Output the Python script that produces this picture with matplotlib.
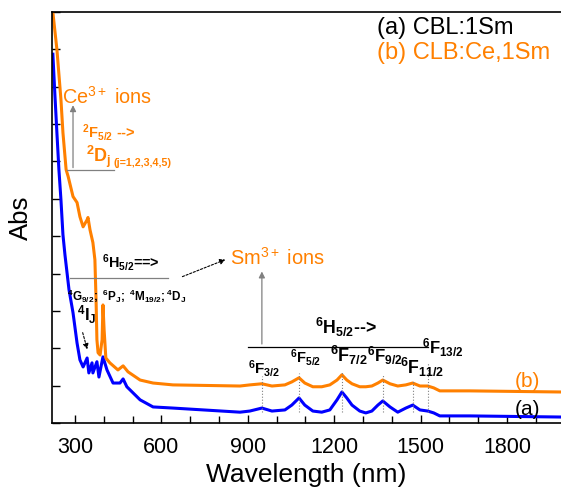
import matplotlib
matplotlib.use("Agg")
import matplotlib.pyplot as plt
from matplotlib.ticker import MultipleLocator

plt.rcParams["font.family"] = ["Liberation Sans", "DejaVu Sans"]
plt.rcParams["mathtext.fontset"] = "custom"
plt.rcParams["mathtext.rm"] = "Liberation Sans"
plt.rcParams["mathtext.it"] = "Liberation Sans:italic"
plt.rcParams["mathtext.bf"] = "Liberation Sans:bold"

BLUE = "#0000ff"
ORANGE = "#ff8000"

# (a) CBL:1Sm
wl_a = [223, 230, 237, 244, 251, 258, 265, 279, 293, 307, 317, 328, 342, 348,
        359, 362, 376, 383, 397, 411, 432, 456, 467, 480, 526, 571, 640, 873,
        907, 949, 984, 1029, 1053, 1078, 1098, 1126, 1157, 1185, 1210, 1227,
        1244, 1262, 1289, 1310, 1331, 1352, 1369, 1394, 1421, 1449, 1473,
        1498, 1525, 1546, 1567, 1671, 1988]
abs_a = [9.87, 8.79, 7.77, 6.78, 5.98, 5.04, 4.50, 3.57, 2.95, 2.14, 1.69,
         1.50, 1.74, 1.34, 1.61, 1.34, 1.64, 1.23, 1.77, 1.42, 1.07, 1.07,
         1.18, 0.97, 0.62, 0.43, 0.40, 0.29,
         0.32, 0.40, 0.32, 0.35, 0.48, 0.67, 0.48, 0.32, 0.29, 0.35, 0.62,
         0.83, 0.67, 0.48, 0.32, 0.27, 0.32, 0.48, 0.59, 0.43, 0.29, 0.40,
         0.48, 0.35, 0.32, 0.27, 0.19, 0.19, 0.16]

# (b) CLB:Ce,1Sm
wl_b = [223, 237, 251, 258, 269, 276, 293, 307, 317, 328, 342, 345, 352, 362,
        369, 373, 376, 380, 387, 394, 397, 401, 407, 421, 449, 467, 484, 526,
        571, 640, 873,
        907, 949, 984, 1029, 1053, 1078, 1098, 1126, 1157, 1185, 1210, 1227,
        1244, 1262, 1289, 1310, 1331, 1352, 1369, 1394, 1421, 1449, 1473,
        1498, 1525, 1546, 1567, 1671, 1988]
abs_b = [10.99, 10.0, 8.66, 7.77, 6.78, 6.60, 6.06, 5.90, 5.52, 5.25, 5.44,
         5.50, 5.17, 4.83, 4.37, 3.30, 2.23, 1.88, 1.82, 2.23, 3.16, 2.49,
         1.74, 1.61, 1.42, 1.53, 1.37, 1.15, 1.07, 1.02, 0.99,
         1.02, 1.05, 0.99, 1.02, 1.10, 1.21, 1.07, 0.97, 0.97, 1.02, 1.15,
         1.29, 1.15, 1.05, 0.97, 0.97, 0.99, 1.07, 1.15, 1.05, 0.99, 1.02,
         1.07, 0.99, 0.99, 0.94, 0.86, 0.86, 0.83]

# Sm3+ bands 6H5/2 -> 6F_J
sm_bands = [949, 1078, 1227, 1369, 1473, 1525]
sm_labels = [r"$\mathbf{^6F_{3/2}}$", r"$\mathbf{^6F_{5/2}}$", r"$\mathbf{^6F_{7/2}}$",
             r"$\mathbf{^6F_{9/2}}$", r"$\mathbf{^6F_{11/2}}$", r"$\mathbf{^6F_{13/2}}$"]
sm_label_x = [900, 1046, 1185, 1314, 1430, 1505]
sm_label_y = [1.47, 1.74, 1.80, 1.80, 1.50, 2.01]
sm_line_top = [1.25, 1.34, 1.37, 1.29, 1.15, 1.64]
sm_size = [11, 10.5, 13, 12.2, 12.8, 12]

fig = plt.figure(figsize=(5.61, 4.87), dpi=100)
ax = fig.add_axes([0.0927, 0.1314, 0.9073, 0.844])

ax.plot(wl_a, abs_a, color=BLUE, lw=2.2)
ax.plot(wl_b, abs_b, color=ORANGE, lw=2.2)

ax.set_xlim(220, 1988)
ax.set_ylim(0, 11)
ax.xaxis.set_major_locator(MultipleLocator(300))
ax.xaxis.set_minor_locator(MultipleLocator(100))
ax.yaxis.set_major_locator(MultipleLocator(1))
ax.set_yticklabels([])
ax.tick_params(axis="both", which="major", direction="in", length=6, width=1,
               labelsize=15.5, pad=10)
ax.tick_params(axis="x", which="minor", direction="in", length=5, width=1)
for s in ["left", "bottom", "top"]:
    ax.spines[s].set_linewidth(1.2)
ax.spines["right"].set_visible(False)
ax.set_xlabel("Wavelength (nm)", fontsize=19, labelpad=4)
ax.set_ylabel("Abs", fontsize=18.5, labelpad=4)

# legend text
ax.text(1348, 10.56, "(a) CBL:1Sm", fontsize=17, va="center", color="black")
ax.text(1348, 9.90, "(b) CLB:Ce,1Sm", fontsize=17, va="center", color=ORANGE)
ax.text(1828, 1.10, "(b)", fontsize=15, va="center", color=ORANGE)
ax.text(1828, 0.35, "(a)", fontsize=15, va="center", color="black")

# Ce3+ annotations
ax.text(255, 8.74, r"Ce$^{3+}$ ions", fontsize=14.3, va="center", color=ORANGE)
ax.annotate("", xy=(293, 8.58), xytext=(293, 6.76),
            arrowprops=dict(arrowstyle="-|>", color="gray", lw=0.9,
                            mutation_scale=9))
ax.plot([272, 435], [6.76, 6.76], color="gray", lw=0.9)
ax.text(324, 7.77, r"$\mathbf{^2F_{5/2}}$ -->", fontsize=10.5, va="center",
        color=ORANGE, fontweight="bold")
ax.text(338, 7.13, r"$\mathbf{^2D_j}$", fontsize=13, va="center", color=ORANGE)
ax.text(432, 6.97, "(j=1,2,3,4,5)", fontsize=7.7, va="center", color=ORANGE,
        fontweight="bold")

# Sm3+ UV/visible annotations
ax.text(393, 4.29, r"$\mathbf{^6H_{5/2}}$==>", fontsize=10.4, va="center",
        fontweight="bold")
ax.plot([282, 623], [3.89, 3.89], color="gray", lw=0.9)
ax.text(272, 3.38, r"$\mathbf{^4G_{9/2}; \ ^6P_J; \ ^4M_{19/2};^4D_J}$",
        fontsize=8.5, va="center")
ax.text(307, 2.90, r"$\mathbf{^4I_J}$", fontsize=12, va="center")
ax.annotate("", xy=(345, 1.90), xytext=(324, 2.49),
            arrowprops=dict(arrowstyle="-|>", color="black", lw=0.8,
                            linestyle=(0, (2, 1.5)), mutation_scale=8))
ax.annotate("", xy=(831, 4.40), xytext=(664, 3.89),
            arrowprops=dict(arrowstyle="-|>", color="black", lw=0.8,
                            linestyle=(0, (2, 1.5)), mutation_scale=8))
ax.text(838, 4.42, r"Sm$^{3+}$ ions", fontsize=14.4, va="center", color=ORANGE)

# Sm3+ NIR annotations
ax.annotate("", xy=(949, 4.13), xytext=(949, 2.04),
            arrowprops=dict(arrowstyle="-|>", color="gray", lw=0.9,
                            mutation_scale=9))
ax.plot([900, 1525], [2.04, 2.04], color="black", lw=0.9)
ax.text(1133, 2.55, r"$\mathbf{^6H_{5/2}}$-->", fontsize=12.8, va="center",
        fontweight="bold")
for pos, lab, lx, ly, top, fs in zip(sm_bands, sm_labels, sm_label_x,
                                     sm_label_y, sm_line_top, sm_size):
    ax.text(lx, ly, lab, fontsize=fs, va="center")
    ax.plot([pos, pos], [0.3, top], color="gray", lw=0.8, ls=":")

fig.savefig("out.png", dpi=100)
